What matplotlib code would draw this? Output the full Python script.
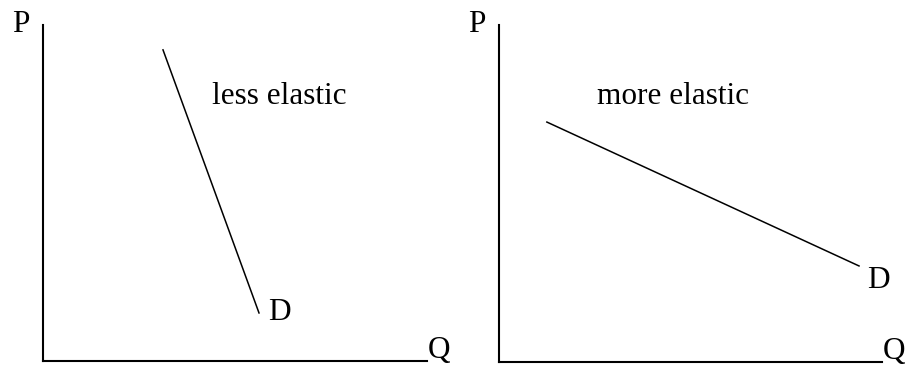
import matplotlib
matplotlib.use("Agg")
import matplotlib.pyplot as plt

plt.rcParams['font.family'] = ['Liberation Serif', 'DejaVu Serif']

# demand curves, axes run 0..10 in both directions
less_x = [3.125, 5.625]
less_y = [9.26, 1.43]
more_x = [1.25, 9.4]
more_y = [7.12, 2.85]

panels = [
    # axes rect (fig fraction), curve, label, label pos, D pos
    ([43/908, 1-361/369, 384/908, 336/369], less_x, less_y, "less elastic", (4.40, 7.65), (5.86, 1.22)),
    ([499/908, 1-362/369, 383/908, 337/369], more_x, more_y, "more elastic", (2.56, 7.66), (9.61, 2.2)),
]

fig = plt.figure(figsize=(9.08, 3.69), dpi=100)
fs = 22.5
for rect, xs, ys, lab, lpos, dpos in panels:
    ax = fig.add_axes(rect)
    ax.set_xlim(0, 10)
    ax.set_ylim(0, 10)
    ax.plot(xs, ys, color='black', lw=1.1)
    for s in ['top', 'right']:
        ax.spines[s].set_visible(False)
    ax.spines['left'].set_linewidth(1.5)
    ax.spines['bottom'].set_linewidth(1.5)
    ax.set_xticks([])
    ax.set_yticks([])
    ax.text(lpos[0], lpos[1], lab, fontsize=fs, va='baseline')
    ax.text(dpos[0], dpos[1], "D", fontsize=fs, va='baseline')
    ax.text(-0.81, 9.79, "P", fontsize=fs, va='baseline', clip_on=False)
    ax.text(10.03, 0.1, "Q", fontsize=fs, va='baseline', clip_on=False)

fig.savefig("out.png", dpi=100)
